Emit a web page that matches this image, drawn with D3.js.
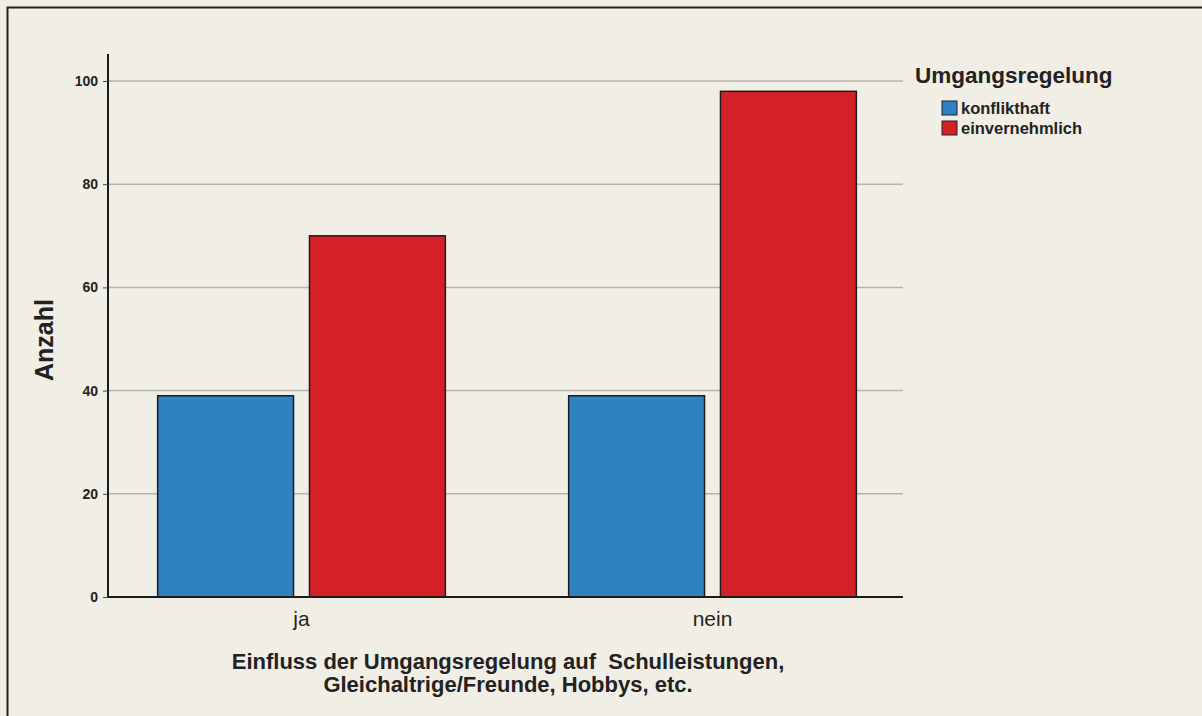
<!DOCTYPE html>
<html>
<head>
<meta charset="utf-8">
<script src="https://cdn.jsdelivr.net/npm/d3@7"></script>
<style>
  body { margin: 0; background: #f1eee6; }
  svg { display: block; font-family: "Liberation Sans", Arial, sans-serif; }
  text { white-space: pre; }
</style>
</head>
<body>
<div class="canvas"></div>
<script>
// data
const categories = ['ja', 'nein'];
const series = ['konflikthaft', 'einvernehmlich'];
const konflikthaft = [39, 39];
const einvernehmlich = [70, 98];
const yTicks = [0, 20, 40, 60, 80, 100];
const colors = ['#2f82c2', '#d42128'];

const width = 1202, height = 716;

const svg = d3.select('.canvas').append('svg')
    .attr('width', width)
    .attr('height', height);

// frame
svg.append('path')
    .attr('d', `M7.5,${height} V7.5 H${width}`)
    .attr('fill', 'none')
    .attr('stroke', '#222')
    .attr('stroke-width', 2);

// scales
const y = d3.scaleLinear()
    .domain([0, 100])
    .range([597, 81]);

const x0 = d3.scaleBand()
    .domain(categories)
    .range([96, 918])
    .paddingInner(0.3)
    .paddingOuter(0.15);

const x1 = d3.scaleBand()
    .domain(series)
    .range([0, x0.bandwidth()])
    .paddingInner(0.105);

const color = d3.scaleOrdinal().domain(series).range(colors);

const plotLeft = 108, plotRight = 903;

// gridlines
svg.append('g')
    .selectAll('line')
    .data(yTicks.filter(d => d > 0))
    .join('line')
    .attr('x1', plotLeft)
    .attr('x2', plotRight)
    .attr('y1', d => y(d))
    .attr('y2', d => y(d))
    .attr('stroke', '#b5b3ad')
    .attr('stroke-width', 1.5);

// bars
const rows = categories.map((c, i) => ({
    cat: c,
    values: [
        {key: 'konflikthaft', value: konflikthaft[i]},
        {key: 'einvernehmlich', value: einvernehmlich[i]}
    ]
}));

svg.append('g')
    .selectAll('g')
    .data(rows)
    .join('g')
    .attr('transform', d => `translate(${x0(d.cat)},0)`)
    .selectAll('rect')
    .data(d => d.values)
    .join('rect')
    .attr('x', d => x1(d.key))
    .attr('y', d => y(d.value))
    .attr('width', x1.bandwidth())
    .attr('height', d => y(0) - y(d.value))
    .attr('fill', d => color(d.key))
    .attr('stroke', '#1d1d1d')
    .attr('stroke-width', 1.5);

// y axis
const yAxis = d3.axisLeft(y).tickValues(yTicks).tickSize(5).tickPadding(5);
const yAxisGroup = svg.append('g')
    .attr('transform', `translate(${plotLeft},0)`)
    .call(yAxis);
yAxisGroup.select('.domain')
    .attr('d', `M0,${y(0)} V54`)
    .attr('stroke', '#1a1a1a')
    .attr('stroke-width', 2);
yAxisGroup.selectAll('.tick line').attr('stroke', '#444');
yAxisGroup.selectAll('.tick text')
    .attr('font-size', 14)
    .attr('font-weight', 'bold')
    .attr('fill', '#222')
    .attr('font-family', '"Liberation Sans", Arial, sans-serif');

// x axis
const xAxis = d3.axisBottom(x0).tickSize(0).tickPadding(14);
const xAxisGroup = svg.append('g')
    .attr('transform', `translate(0,${y(0)})`)
    .call(xAxis);
xAxisGroup.select('.domain')
    .attr('d', `M${plotLeft},0 H${plotRight}`)
    .attr('stroke', '#1a1a1a')
    .attr('stroke-width', 2);
xAxisGroup.selectAll('.tick text')
    .attr('font-size', 21)
    .attr('fill', '#222')
    .attr('font-family', '"Liberation Sans", Arial, sans-serif');

// axis titles
svg.append('text')
    .attr('transform', 'translate(53,340) rotate(-90)')
    .attr('text-anchor', 'middle')
    .attr('font-size', 25)
    .attr('font-weight', 'bold')
    .attr('fill', '#222')
    .text('Anzahl');

const xTitle = svg.append('text')
    .attr('text-anchor', 'middle')
    .attr('font-size', 22)
    .attr('font-weight', 'bold')
    .attr('fill', '#222');
xTitle.append('tspan').attr('x', 508).attr('y', 669)
    .text('Einfluss der Umgangsregelung auf  Schulleistungen,');
xTitle.append('tspan').attr('x', 508).attr('y', 692)
    .text('Gleichaltrige/Freunde, Hobbys, etc.');

// legend
const legend = svg.append('g').attr('transform', 'translate(915,0)');
legend.append('text')
    .attr('x', 0)
    .attr('y', 83)
    .attr('font-size', 22.5)
    .attr('font-weight', 'bold')
    .attr('fill', '#222')
    .text('Umgangsregelung');

const items = legend.selectAll('g.item')
    .data(series)
    .join('g')
    .attr('class', 'item')
    .attr('transform', (d, i) => `translate(27,${101 + i * 20})`);
items.append('rect')
    .attr('width', 15)
    .attr('height', 14)
    .attr('fill', d => color(d))
    .attr('stroke', '#222')
    .attr('stroke-width', 1);
items.append('text')
    .attr('x', 19)
    .attr('y', 13)
    .attr('font-size', 16.5)
    .attr('font-weight', 'bold')
    .attr('fill', '#222')
    .text(d => d);
</script>
</body>
</html>
